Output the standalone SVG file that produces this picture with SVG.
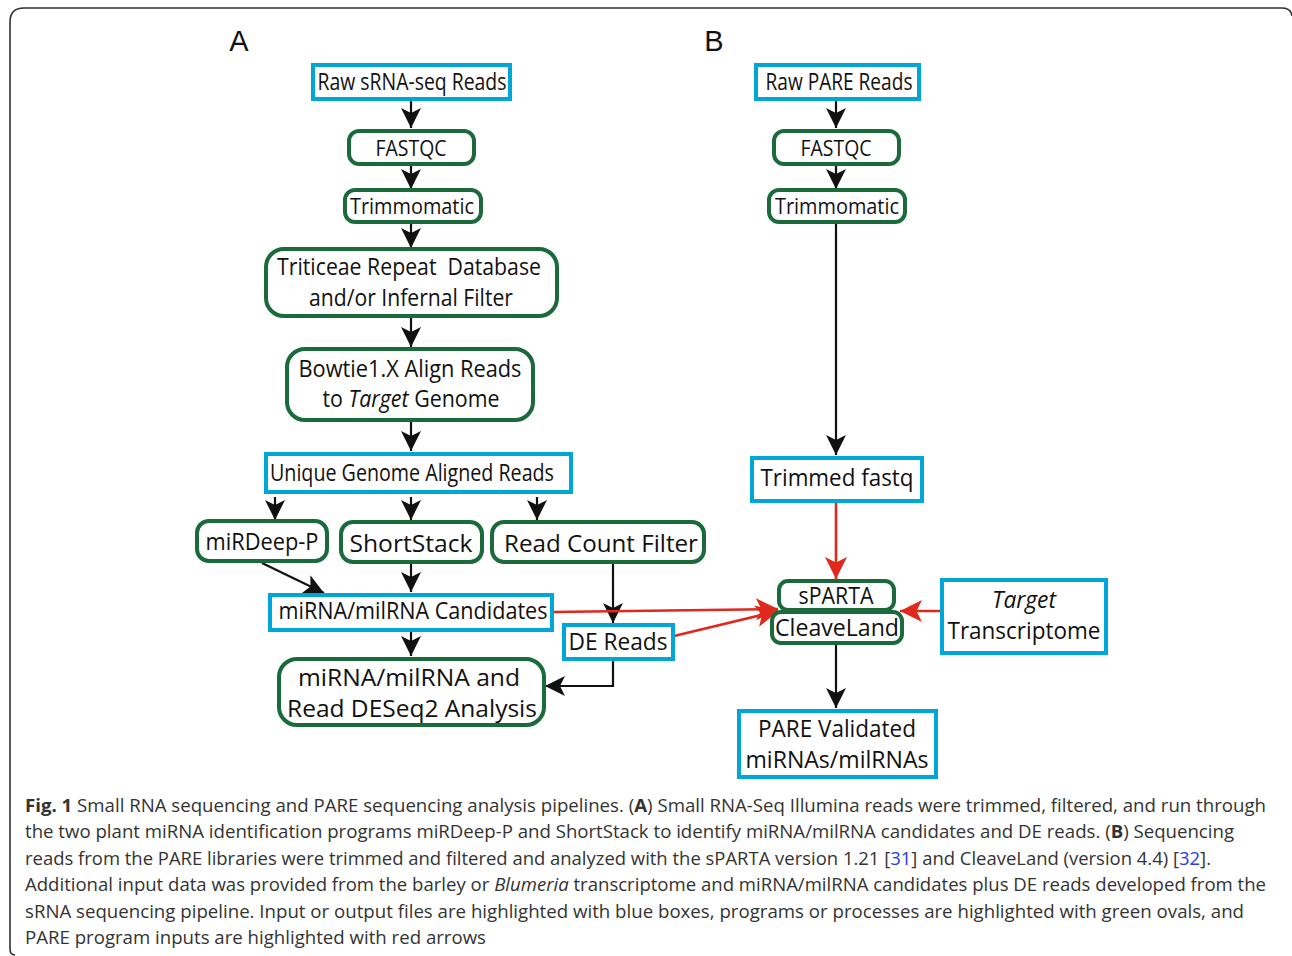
<svg xmlns="http://www.w3.org/2000/svg" width="1292" height="956" viewBox="0 0 1292 956">
<style>
.bg{fill:#ffffff}
.frame{fill:none;stroke:#333333;stroke-width:1.6}
.blue{fill:#ffffff;stroke:#00a6d8;stroke-width:4}
.green{fill:#ffffff;stroke:#1a6a3c;stroke-width:4}
.t{font-family:"Open Sans","Noto Sans",sans-serif;fill:#111111;text-anchor:middle}
.lbl{font-family:"Liberation Sans",Arial,sans-serif;font-size:29px;fill:#111111;text-anchor:middle}
.cap{font-family:"Open Sans","Noto Sans",sans-serif;font-size:18.5px;fill:#333333}
.cite{fill:#2b3bdd}
.blk{fill:none;stroke:#111111;stroke-width:2.2}
.red{fill:none;stroke:#e0281c;stroke-width:2.6}
</style>
<defs>
<marker id="ab" viewBox="0 0 20 20" refX="20" refY="10" markerWidth="20" markerHeight="20" markerUnits="userSpaceOnUse" orient="auto">
<path d="M0,0 L20,10 L0,20 L5,10 z" fill="#111111"/>
</marker>
<marker id="ar" viewBox="0 0 20 20" refX="20" refY="10" markerWidth="22" markerHeight="22" markerUnits="userSpaceOnUse" orient="auto">
<path d="M0,0 L20,10 L0,20 L5,10 z" fill="#e0281c"/>
</marker>
</defs>
<rect class="bg" x="0" y="0" width="1292" height="956"/>
<path class="frame" d="M15,955 Q10,955 10,949 L10,22 Q10,8 24,8 L1282,8 Q1291,8 1292,16"/>
<text class="lbl" x="239" y="51">A</text>
<text class="lbl" x="714" y="51">B</text>

<g id="connectors">
<path class="blk" d="M411,100 L411,128" marker-end="url(#ab)"/>
<path class="blk" d="M411,165 L411,189" marker-end="url(#ab)"/>
<path class="blk" d="M411,223 L411,248" marker-end="url(#ab)"/>
<path class="blk" d="M411,318 L411,347" marker-end="url(#ab)"/>
<path class="blk" d="M411,422 L411,451" marker-end="url(#ab)"/>
<path class="blk" d="M275,497 L275,520" marker-end="url(#ab)"/>
<path class="blk" d="M411,497 L411,520" marker-end="url(#ab)"/>
<path class="blk" d="M537,497 L537,520" marker-end="url(#ab)"/>
<path class="blk" d="M262,563 L324,593" marker-end="url(#ab)"/>
<path class="blk" d="M411,564 L411,592" marker-end="url(#ab)"/>
<path class="blk" d="M613,564 L613,623" marker-end="url(#ab)"/>
<path class="blk" d="M411,632 L411,656" marker-end="url(#ab)"/>
<path class="blk" d="M613,661 L613,686 L545,686" marker-end="url(#ab)"/>
<path class="blk" d="M836,100 L836,128" marker-end="url(#ab)"/>
<path class="blk" d="M836,165 L836,189" marker-end="url(#ab)"/>
<path class="blk" d="M836,223 L836,455" marker-end="url(#ab)"/>
<path class="blk" d="M836,645 L836,708" marker-end="url(#ab)"/>
<path class="red" d="M836,503 L836,579" marker-end="url(#ar)"/>
<path class="red" d="M553,612 L778,609" marker-end="url(#ar)"/>
<path class="red" d="M674,636 L778,611" marker-end="url(#ar)"/>
<path class="red" d="M941,611 L900,611" marker-end="url(#ar)"/>
</g>

<g id="raw-srna">
<rect class="blue" x="313" y="65" width="197" height="34"/>
<text class="t" x="412" y="90" font-size="23" textLength="189" lengthAdjust="spacingAndGlyphs">Raw sRNA-seq Reads</text>
</g>
<g id="fastqc-a">
<rect class="green" x="349" y="131" width="125" height="33" rx="10"/>
<text class="t" x="411" y="156" font-size="22" textLength="71" lengthAdjust="spacingAndGlyphs">FASTQC</text>
</g>
<g id="trimmomatic-a">
<rect class="green" x="345" y="190" width="136" height="32" rx="10"/>
<text class="t" x="412" y="214" font-size="22" textLength="124" lengthAdjust="spacingAndGlyphs">Trimmomatic</text>
</g>
<g id="triticeae">
<rect class="green" x="266" y="249" width="291" height="67" rx="18"/>
<text class="t" x="409" y="275" font-size="23" textLength="264" lengthAdjust="spacingAndGlyphs">Triticeae Repeat&#160; Database</text>
<text class="t" x="411" y="306" font-size="23" textLength="204" lengthAdjust="spacingAndGlyphs">and/or Infernal Filter</text>
</g>
<g id="bowtie">
<rect class="green" x="287" y="349" width="246" height="71" rx="18"/>
<text class="t" x="410" y="377" font-size="23" textLength="223" lengthAdjust="spacingAndGlyphs">Bowtie1.X Align Reads</text>
<text class="t" x="411" y="407" font-size="23" textLength="177" lengthAdjust="spacingAndGlyphs">to <tspan font-style="italic">Target</tspan> Genome</text>
</g>
<g id="unique">
<rect class="blue" x="266" y="454" width="305" height="38"/>
<text class="t" x="412" y="481" font-size="23" textLength="284" lengthAdjust="spacingAndGlyphs">Unique Genome Aligned Reads</text>
</g>
<g id="mirdeep">
<rect class="green" x="197" y="521" width="130" height="40" rx="12"/>
<text class="t" x="262" y="550" font-size="23" textLength="113" lengthAdjust="spacingAndGlyphs">miRDeep-P</text>
</g>
<g id="shortstack">
<rect class="green" x="341" y="522" width="141" height="40" rx="12"/>
<text class="t" x="411" y="552" font-size="24" textLength="123" lengthAdjust="spacingAndGlyphs">ShortStack</text>
</g>
<g id="readcount">
<rect class="green" x="492" y="522" width="212" height="40" rx="12"/>
<text class="t" x="601" y="552" font-size="24" textLength="194" lengthAdjust="spacingAndGlyphs">Read Count Filter</text>
</g>
<g id="candidates">
<rect class="blue" x="270" y="595" width="282" height="35"/>
<text class="t" x="413" y="619" font-size="23" textLength="269" lengthAdjust="spacingAndGlyphs">miRNA/milRNA Candidates</text>
</g>
<g id="dereads">
<rect class="blue" x="564" y="625" width="109" height="34"/>
<text class="t" x="618" y="650" font-size="24" textLength="99" lengthAdjust="spacingAndGlyphs">DE Reads</text>
</g>
<g id="deseq2">
<rect class="green" x="279" y="659" width="265" height="66" rx="18"/>
<text class="t" x="409" y="686" font-size="24" textLength="222" lengthAdjust="spacingAndGlyphs">miRNA/milRNA and</text>
<text class="t" x="412" y="717" font-size="24" textLength="250" lengthAdjust="spacingAndGlyphs">Read DESeq2 Analysis</text>
</g>

<g id="raw-pare">
<rect class="blue" x="756" y="65" width="163" height="34"/>
<text class="t" x="839" y="90" font-size="23" textLength="147" lengthAdjust="spacingAndGlyphs">Raw PARE Reads</text>
</g>
<g id="fastqc-b">
<rect class="green" x="774" y="131" width="125" height="33" rx="10"/>
<text class="t" x="836" y="156" font-size="22" textLength="71" lengthAdjust="spacingAndGlyphs">FASTQC</text>
</g>
<g id="trimmomatic-b">
<rect class="green" x="769" y="190" width="136" height="32" rx="10"/>
<text class="t" x="837" y="214" font-size="22" textLength="124" lengthAdjust="spacingAndGlyphs">Trimmomatic</text>
</g>
<g id="trimmed-fastq">
<rect class="blue" x="752" y="458" width="170" height="43"/>
<text class="t" x="837" y="486" font-size="24" textLength="153" lengthAdjust="spacingAndGlyphs">Trimmed fastq</text>
</g>
<g id="sparta">
<rect class="green" x="779" y="581" width="115" height="29" rx="9"/>
<text class="t" x="836" y="604" font-size="23" textLength="75" lengthAdjust="spacingAndGlyphs">sPARTA</text>
</g>
<g id="cleaveland">
<rect class="green" x="772" y="612" width="130" height="31" rx="9"/>
<text class="t" x="837" y="636" font-size="23" textLength="124" lengthAdjust="spacingAndGlyphs">CleaveLand</text>
</g>
<g id="target-transcriptome">
<rect class="blue" x="942" y="580" width="164" height="73"/>
<text class="t" x="1024" y="608" font-size="23" font-style="italic" textLength="64" lengthAdjust="spacingAndGlyphs">Target</text>
<text class="t" x="1024" y="639" font-size="23" textLength="153" lengthAdjust="spacingAndGlyphs">Transcriptome</text>
</g>
<g id="pare-validated">
<rect class="blue" x="739" y="711" width="197" height="66"/>
<text class="t" x="837" y="737" font-size="24" textLength="158" lengthAdjust="spacingAndGlyphs">PARE Validated</text>
<text class="t" x="837" y="768" font-size="24" textLength="183" lengthAdjust="spacingAndGlyphs">miRNAs/milRNAs</text>
</g>

<g id="caption">
<text class="cap" x="25" y="812" textLength="1241" lengthAdjust="spacingAndGlyphs"><tspan font-weight="bold">Fig. 1</tspan> Small RNA sequencing and PARE sequencing analysis pipelines. (<tspan font-weight="bold">A</tspan>) Small RNA-Seq Illumina reads were trimmed, filtered, and run through</text>
<text class="cap" x="25" y="838" textLength="1209" lengthAdjust="spacingAndGlyphs">the two plant miRNA identification programs miRDeep-P and ShortStack to identify miRNA/milRNA candidates and DE reads. (<tspan font-weight="bold">B</tspan>) Sequencing</text>
<text class="cap" x="25" y="865" textLength="1186" lengthAdjust="spacingAndGlyphs">reads from the PARE libraries were trimmed and filtered and analyzed with the sPARTA version 1.21 [<tspan class="cite">31</tspan>] and CleaveLand (version 4.4) [<tspan class="cite">32</tspan>].</text>
<text class="cap" x="25" y="891" textLength="1241" lengthAdjust="spacingAndGlyphs">Additional input data was provided from the barley or <tspan font-style="italic">Blumeria</tspan> transcriptome and miRNA/milRNA candidates plus DE reads developed from the</text>
<text class="cap" x="25" y="918" textLength="1219" lengthAdjust="spacingAndGlyphs">sRNA sequencing pipeline. Input or output files are highlighted with blue boxes, programs or processes are highlighted with green ovals, and</text>
<text class="cap" x="25" y="944" textLength="461" lengthAdjust="spacingAndGlyphs">PARE program inputs are highlighted with red arrows</text>
</g>
</svg>
